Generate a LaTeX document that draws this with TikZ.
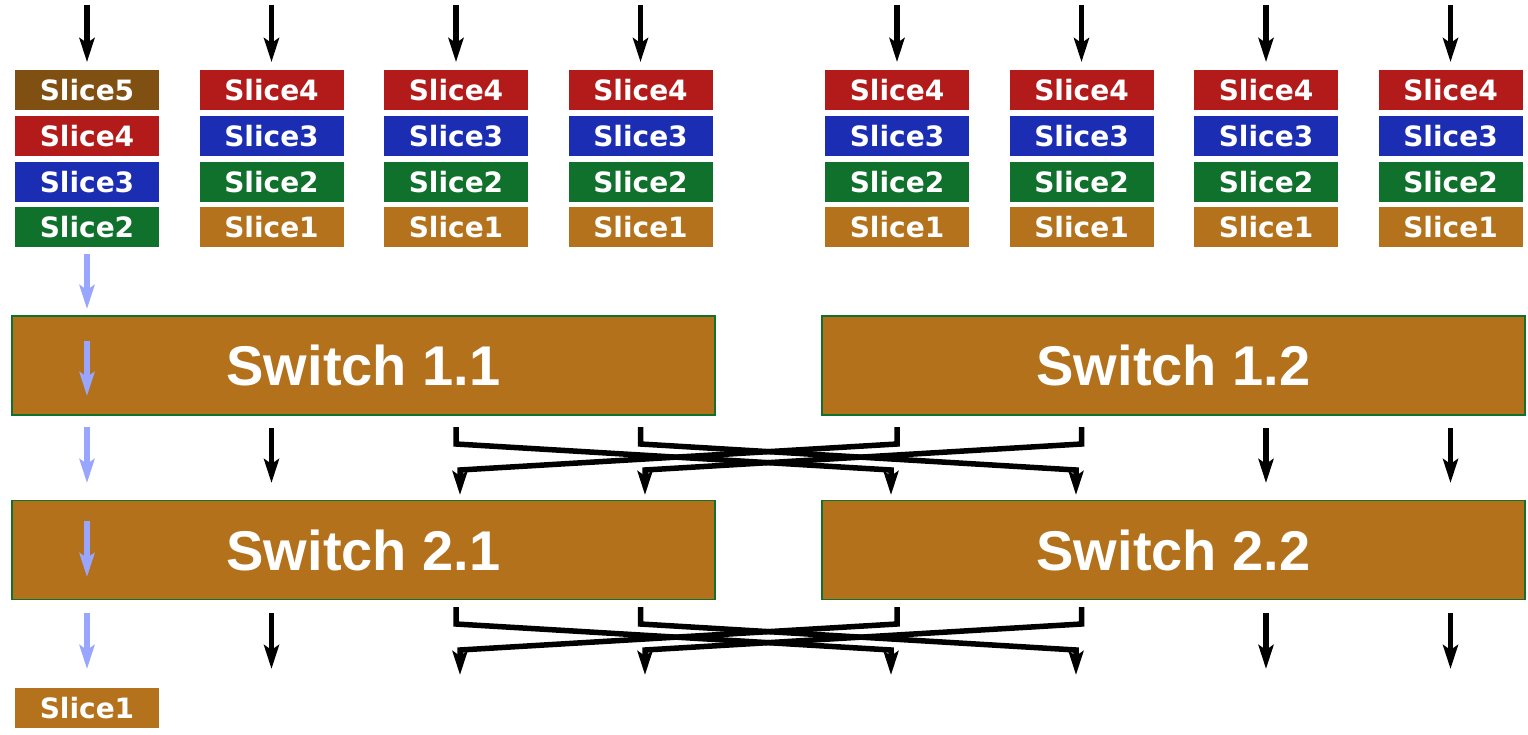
\documentclass[tikz,border=0pt]{standalone}
\usepackage{fontspec}
\newfontfamily\slicefont{DejaVu Sans}
\newfontfamily\switchfont{Liberation Sans}
\usetikzlibrary{arrows.meta}

\definecolor{sfive}{RGB}{128,80,18}
\definecolor{sfour}{RGB}{179,27,27}
\definecolor{sthree}{RGB}{27,45,179}
\definecolor{stwo}{RGB}{15,113,43}
\definecolor{sone}{RGB}{179,114,27}
\definecolor{swfill}{RGB}{179,113,27}
\definecolor{swline}{RGB}{15,113,43}
\definecolor{flow}{RGB}{153,166,255}

\tikzset{
  slicebox/.style={rectangle, inner sep=0pt, minimum width=144pt, minimum height=40pt,
    text=white, font=\slicefont\bfseries\fontsize{28}{30}\selectfont},
  switchbox/.style={rectangle, inner sep=0pt, minimum width=703pt, minimum height=99pt,
    fill=swfill, draw=swline, line width=1.2pt, text=white,
    font=\switchfont\bfseries\fontsize{56}{60}\selectfont},
  tip/.style={-{Stealth[length=24pt,width=15pt,inset=5pt]}},
  arr/.style={tip, line width=5.5pt, black},
  flowarr/.style={tip, line width=5.5pt, flow},
  cross/.style={tip, line width=5.5pt, black, line join=miter},
}

\begin{document}
\begin{tikzpicture}[x=1pt,y=-1pt]
\path[use as bounding box] (0,0) rectangle (1528,735);

% --- slice stacks ---
\node[slicebox, fill=sfive]  (s1-5) at (87,90.3)  {Slice5};
\node[slicebox, fill=sfour]  (s1-4) at (87,136)   {Slice4};
\node[slicebox, fill=sthree] (s1-3) at (87,181.6) {Slice3};
\node[slicebox, fill=stwo]   (s1-2) at (87,227.3) {Slice2};
\coordinate (in1) at (87,5);
\draw[arr, shorten >=8pt] (in1) -- (s1-5.north);

\foreach \c/\x in {2/271.5,3/456,4/640.5,5/897,6/1081.5,7/1266,8/1450.5}{
  \node[slicebox, fill=sfour]  (s\c-4) at (\x,90.3)  {Slice4};
  \node[slicebox, fill=sthree] (s\c-3) at (\x,136)   {Slice3};
  \node[slicebox, fill=stwo]   (s\c-2) at (\x,181.6) {Slice2};
  \node[slicebox, fill=sone]   (s\c-1) at (\x,227.3) {Slice1};
  \coordinate (in\c) at (\x,5);
  \draw[arr, shorten >=8pt] (in\c) -- (s\c-4.north);
}

% --- switches ---
\node[switchbox] (sw11) at (363.5,365.5) {Switch 1.1};
\node[switchbox] (sw12) at (1173.5,365.5) {Switch 1.2};
\node[switchbox] (sw21) at (363.5,550) {Switch 2.1};
\node[switchbox] (sw22) at (1173.5,550) {Switch 2.2};

% --- slice leaving the fabric ---
\node[slicebox, fill=sone] (out1) at (87,708) {Slice1};

% --- flow of the head slice (column 1) ---
\coordinate (f1a) at (87,254);  \coordinate (f1b) at (87,309);
\coordinate (f2a) at (87,341);  \coordinate (f2b) at (87,396);
\coordinate (f3a) at (87,427);  \coordinate (f3b) at (87,483);
\coordinate (f4a) at (87,521);  \coordinate (f4b) at (87,577);
\coordinate (f5a) at (87,613);  \coordinate (f5b) at (87,669);
\draw[flowarr] (f1a) -- (f1b);
\draw[flowarr] (f2a) -- (f2b);
\draw[flowarr] (f3a) -- (f3b);
\draw[flowarr] (f4a) -- (f4b);
\draw[flowarr] (f5a) -- (f5b);

% --- straight links between stages ---
\foreach \x [count=\i] in {271.5,1266,1450.5}{
  \coordinate (ua\i) at (\x,428); \coordinate (ub\i) at (\x,483);
  \coordinate (la\i) at (\x,613); \coordinate (lb\i) at (\x,669);
  \draw[arr] (ua\i) -- (ub\i);
  \draw[arr] (la\i) -- (lb\i);
}

% --- crossed links between stages ---
\foreach \dy/\s in {0/u,180/l}{
  \coordinate (\s c3) at (456,427+\dy);
  \coordinate (\s c4) at (640.5,427+\dy);
  \coordinate (\s c5) at (897,427+\dy);
  \coordinate (\s c6) at (1081.5,427+\dy);
  \coordinate (\s d3) at (460,495+\dy);
  \coordinate (\s d4) at (645,495+\dy);
  \coordinate (\s d5) at (891,495+\dy);
  \coordinate (\s d6) at (1076,495+\dy);
  \draw[cross] (\s c3) -- ++(0,17) -- ([yshift=25pt]\s d5) -- (\s d5);
  \draw[cross] (\s c4) -- ++(0,17) -- ([yshift=25pt]\s d6) -- (\s d6);
  \draw[cross] (\s c5) -- ++(0,17) -- ([yshift=25pt]\s d3) -- (\s d3);
  \draw[cross] (\s c6) -- ++(0,17) -- ([yshift=25pt]\s d4) -- (\s d4);
}
\end{tikzpicture}
\end{document}
